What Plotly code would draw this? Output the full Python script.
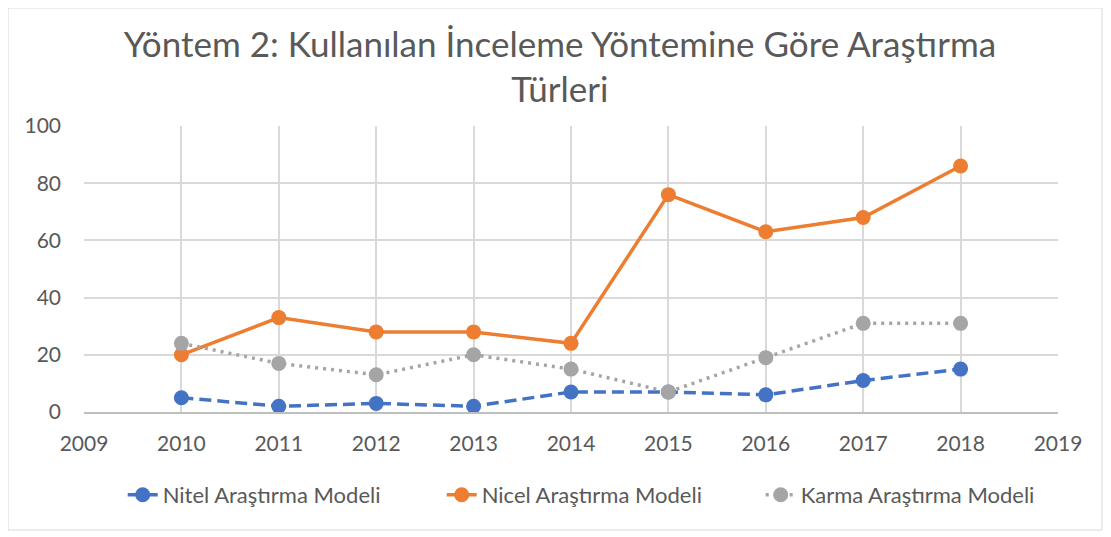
import plotly.graph_objects as go

years = [2010, 2011, 2012, 2013, 2014, 2015, 2016, 2017, 2018]
nitel = [5, 2, 3, 2, 7, 7, 6, 11, 15]
nicel = [20, 33, 28, 28, 24, 76, 63, 68, 86]
karma = [24, 17, 13, 20, 15, 7, 19, 31, 31]

series_names = ["Nitel Araştırma Modeli", "Nicel Araştırma Modeli", "Karma Araştırma Modeli"]
colors = ["#4472C4", "#ED7D31", "#A5A5A5"]
dashes = ["12px,6px", "solid", "3px,5px"]

fig = go.Figure()
for name, vals, col, dsh in zip(series_names, [nitel, nicel, karma], colors, dashes):
    fig.add_trace(go.Scatter(
        x=years, y=vals, name=name, mode="lines+markers",
        line=dict(color=col, width=3.5, dash=dsh),
        marker=dict(color=col, size=15),
    ))

font_family = "Lato, Liberation Sans, sans-serif"

fig.update_layout(
    width=1095, height=523,
    paper_bgcolor="white", plot_bgcolor="white",
    margin=dict(l=76, r=45, t=118, b=119),
    title=dict(
        text="Yöntem 2: Kullanılan İnceleme Yöntemine Göre Araştırma<br>Türleri",
        x=0.504, xanchor="center", xref="container", y=0.907, yanchor="top", yref="container",
        font=dict(family=font_family, size=35, color="#595959"),
    ),
    font=dict(family=font_family, color="#595959"),
    xaxis=dict(
        range=[2009, 2019], dtick=1, tick0=2009,
        showgrid=True, gridcolor="#D9D9D9", gridwidth=1.5,
        showline=True, linecolor="#BFBFBF", linewidth=1.5,
        ticks="", tickfont=dict(size=21, color="#595959"),
        ticklabelstandoff=12,
        zeroline=False,
    ),
    yaxis=dict(
        range=[0, 100], dtick=20,
        showgrid=True, gridcolor="#D9D9D9", gridwidth=1.5,
        showline=False, ticks="",
        tickfont=dict(size=21, color="#595959"),
        ticklabelstandoff=22,
        zeroline=False,
    ),
    legend=dict(
        orientation="h", x=0.531, xanchor="center", y=-0.29, yanchor="middle",
        font=dict(size=22, color="#595959"),
        entrywidth=274,
    ),
    showlegend=True,
    shapes=[dict(
        type="rect", xref="paper", yref="paper",
        x0=-0.078, x1=1.0452, y0=-0.4126, y1=1.4126,
        line=dict(color="#D9D9D9", width=1), fillcolor="rgba(0,0,0,0)",
        layer="below",
    )],
)

fig.write_html("out.html")
